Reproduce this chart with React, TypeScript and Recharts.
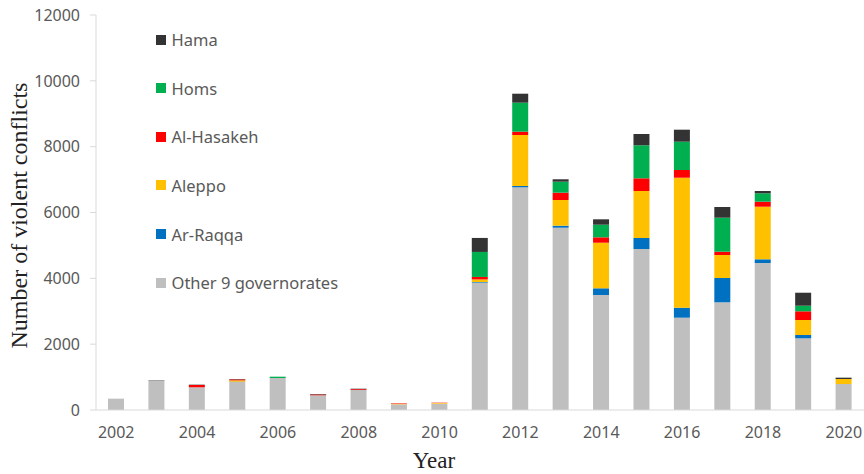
import React from "react";
import { BarChart, Bar, XAxis, YAxis, Legend, Label } from "recharts";

const YEARS = [
  "2002", "2003", "2004", "2005", "2006", "2007", "2008", "2009", "2010", "2011",
  "2012", "2013", "2014", "2015", "2016", "2017", "2018", "2019", "2020",
];
const OTHER = [344, 890, 690, 850, 972, 446, 608, 173, 192, 3867, 6766, 5538, 3494, 4891, 2804, 3272, 4466, 2178, 790];
const AR_RAQQA = [0, 0, 0, 10, 0, 0, 0, 0, 0, 20, 40, 61, 203, 334, 304, 738, 112, 100, 0];
const ALEPPO = [0, 0, 0, 40, 0, 0, 0, 15, 20, 80, 1549, 781, 1385, 1428, 3949, 699, 1598, 456, 152];
const AL_HASAKEH = [0, 0, 70, 30, 0, 25, 25, 15, 10, 75, 100, 222, 164, 386, 234, 100, 152, 264, 0];
const HOMS = [0, 0, 0, 0, 40, 0, 0, 0, 0, 760, 881, 334, 383, 1003, 860, 1033, 255, 170, 0];
const HAMA = [0, 12, 10, 12, 0, 15, 14, 0, 0, 425, 273, 73, 164, 343, 365, 325, 70, 395, 40];
const Y_TICKS = [0, 2000, 4000, 6000, 8000, 10000, 12000];

// bottom to top of each stack
const SERIES = [
  { key: "other", name: "Other 9 governorates", color: "#bfbfbf" },
  { key: "raqqa", name: "Ar-Raqqa", color: "#0070c0" },
  { key: "aleppo", name: "Aleppo", color: "#ffc000" },
  { key: "hasakeh", name: "Al-Hasakeh", color: "#ff0000" },
  { key: "homs", name: "Homs", color: "#00b050" },
  { key: "hama", name: "Hama", color: "#333333" },
];

const data = YEARS.map((year, i) => ({
  year,
  other: OTHER[i],
  raqqa: AR_RAQQA[i],
  aleppo: ALEPPO[i],
  hasakeh: AL_HASAKEH[i],
  homs: HOMS[i],
  hama: HAMA[i],
}));

const TICK_FONT = { fontFamily: "'Noto Sans', sans-serif", fontSize: 16, fill: "#595959" };
const TITLE_FONT = "'Liberation Serif', 'Times New Roman', serif";

function LegendBox() {
  const items = [...SERIES].reverse();
  return (
    <div style={{ fontFamily: "'Noto Sans', sans-serif", fontSize: 16.5, color: "#595959" }}>
      {items.map((s) => (
        <div key={s.key} style={{ height: 48.6, display: "flex", alignItems: "center" }}>
          <span style={{ width: 10, height: 10, background: s.color, marginRight: 6, display: "inline-block" }} />
          <span>{s.name}</span>
        </div>
      ))}
    </div>
  );
}

function YTitle(props: any) {
  const vb = props.viewBox;
  const x = vb.x + 19;
  const y = vb.y + vb.height / 2 + 3;
  return (
    <text
      x={x}
      y={y}
      transform={`rotate(-90 ${x} ${y})`}
      textAnchor="middle"
      dominantBaseline="central"
      fontFamily={TITLE_FONT}
      fontSize={24}
      fill="#222"
    >
      Number of violent conflicts
    </text>
  );
}

function XTitle(props: any) {
  const vb = props.viewBox;
  const x = vb.x + vb.width / 2 - 46;
  const y = vb.y + vb.height - 6;
  return (
    <text x={x} y={y} textAnchor="middle" fontFamily={TITLE_FONT} fontSize={23} fill="#222">
      Year
    </text>
  );
}

export default function App() {
  return (
    <div style={{ position: "absolute", left: 0, top: 0, width: 864, height: 474, background: "#fff" }}>
      <BarChart width={864} height={474} data={data} margin={{ top: 15, right: 0, bottom: 0, left: 0 }} barSize={16}>
        <XAxis
          dataKey="year"
          interval={1}
          height={64}
          tickLine={false}
          tickMargin={11}
          axisLine={{ stroke: "#d9d9d9" }}
          tick={TICK_FONT}
        >
          <Label content={XTitle} />
        </XAxis>
        <YAxis
          width={96}
          domain={[0, 12000]}
          ticks={Y_TICKS}
          interval={0}
          tickSize={6}
          tickMargin={10}
          tickLine={{ stroke: "#d9d9d9" }}
          axisLine={{ stroke: "#d9d9d9" }}
          tick={TICK_FONT}
        >
          <Label content={YTitle} />
        </YAxis>
        <Legend
          layout="vertical"
          align="center"
          verticalAlign="middle"
          wrapperStyle={{ left: 155.5, top: 15.4, width: "auto" }}
          content={() => <LegendBox />}
        />
        {SERIES.map((s) => (
          <Bar key={s.key} dataKey={s.key} name={s.name} stackId="a" fill={s.color} isAnimationActive={false} />
        ))}
      </BarChart>
    </div>
  );
}
